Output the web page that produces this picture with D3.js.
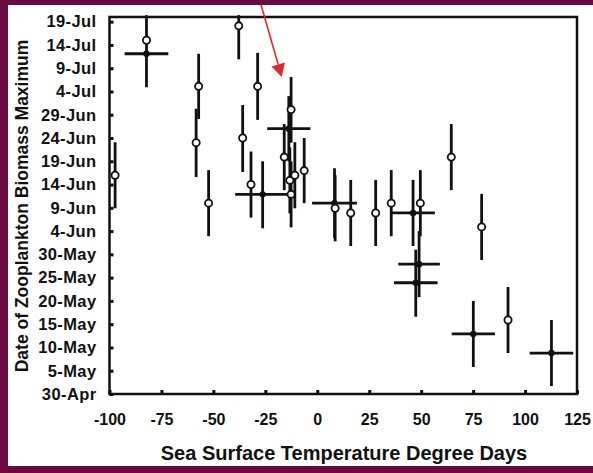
<!DOCTYPE html>
<html lang="en">
<head>
<meta charset="UTF-8">
<title>Zooplankton biomass maximum vs SST degree days</title>
<script src="https://cdn.jsdelivr.net/npm/d3@7"></script>
<style>
    body { margin: 0; background: #fff; }
    text { font-family: "Liberation Sans", Arial, sans-serif; font-weight: bold; fill: #111; }
</style>
</head>
<body>
<script>
    // x = degree days, d = days after 30-Apr, lo/hi = ends of the vertical bar (days)
    var openX  = [-97.3, -82.2, -57.1, -58.3, -52.3, -37.8, -35.9, -28.7, -31.9, -12.6, -15.9, -13.2, -10.8, -12.6, -6.3, 8.6, 16.1, 28.1, 35.6, 49.6, 64.5, 79.1, 91.8]
    var openD  = [47.0, 76.0, 66.1, 54.0, 41.0, 79.1, 55.0, 66.1, 45.0, 61.1, 50.9, 45.9, 47.0, 42.9, 48.0, 39.9, 38.9, 38.9, 41.0, 41.0, 50.9, 35.9, 15.9]
    var openLo = [39.9, 76.0, 59.1, 46.6, 33.9, 71.9, 47.7, 58.9, 37.9, 54.0, 43.8, 38.8, 39.9, 35.8, 41.0, 32.8, 31.8, 31.8, 33.9, 33.9, 43.8, 28.8, 8.8]
    var openHi = [54.1, 76.0, 73.1, 61.3, 48.1, 81.4, 62.1, 73.3, 52.1, 68.1, 58.0, 53.0, 54.1, 50.0, 55.0, 47.0, 46.0, 46.0, 48.1, 48.1, 58.0, 43.0, 23.0]

    // filled points also carry a horizontal bar (xErr)
    var fillX    = [-82.2, -26.3, -13.7, 8.3, 46.1, 49.0, 47.4, 75.1, 112.7]
    var fillXErr = [10.5, 13.2, 10.4, 10.8, 10.5, 10.0, 10.5, 10.4, 10.5]
    var fillD    = [73.1, 42.9, 57.0, 41.0, 38.9, 27.9, 23.9, 12.9, 8.8]
    var fillLo   = [65.9, 35.6, 50.0, 33.5, 31.8, 20.8, 16.6, 5.8, 1.7]
    var fillHi   = [81.4, 50.0, 64.0, 48.5, 46.0, 35.0, 31.0, 20.0, 15.9]

    var xTicks = [-100, -75, -50, -25, 0, 25, 50, 75, 100, 125]
    var yTickDays = [0, 5, 10, 15, 20, 25, 30, 35, 40, 45, 50, 55, 60, 65, 70, 75, 80]
    var yTickLabels = ['30-Apr', '5-May', '10-May', '15-May', '20-May', '25-May', '30-May', '4-Jun',
        '9-Jun', '14-Jun', '19-Jun', '24-Jun', '29-Jun', '4-Jul', '9-Jul', '14-Jul', '19-Jul']

    // red arrow: [x, day] start and tip
    var arrowFrom = [-28.6, 86]
    var arrowTo = [-17.1, 68.1]

    var width = 593
        height = 473
        plot = {left: 109.5, right: 577, top: 17, bottom: 394}
        border = '#6b0c40'

    var svg = d3.select('body')
        .append('svg')
        .attr('width', width)
        .attr('height', height)

    var xScale = d3.scaleLinear()
        .domain([-100, 125])
        .range([plot.left, plot.right])
    var yScale = d3.scaleLinear()
        .domain([0, 81])
        .range([plot.bottom, plot.top])

    svg.append('rect')
        .attr('width', width)
        .attr('height', height)
        .attr('fill', '#fff')

    // axes with short inward ticks
    var bottomAxis = d3.axisBottom(xScale)
        .tickValues(xTicks)
        .tickFormat(d => String(d))
        .tickSizeInner(-4)
        .tickSizeOuter(0)
        .tickPadding(20)
    var leftAxis = d3.axisLeft(yScale)
        .tickValues(yTickDays)
        .tickFormat((d, i) => yTickLabels[i])
        .tickSizeInner(-4)
        .tickSizeOuter(0)
        .tickPadding(13)

    var gx = svg.append('g')
        .attr('transform', `translate(0, ${plot.bottom})`)
        .call(bottomAxis)
    var gy = svg.append('g')
        .attr('transform', `translate(${plot.left}, 0)`)
        .call(leftAxis)
    gx.select('.domain').remove()
    gy.select('.domain').remove()
    gx.selectAll('.tick line').attr('stroke', '#111').attr('stroke-width', 3)
    gy.selectAll('.tick line').attr('stroke', '#111').attr('stroke-width', 3)
    gx.selectAll('.tick text').attr('font-size', 16).attr('font-family', null).attr('fill', '#111')
    gy.selectAll('.tick text').attr('font-size', 16.5).attr('letter-spacing', 0.4).attr('font-family', null).attr('fill', '#111')

    svg.append('rect')
        .attr('x', plot.left)
        .attr('y', plot.top)
        .attr('width', plot.right - plot.left)
        .attr('height', plot.bottom - plot.top)
        .attr('fill', 'none')
        .attr('stroke', '#111')
        .attr('stroke-width', 2.5)

    var openData = openX.map((x, i) => ({x: x, d: openD[i], lo: openLo[i], hi: openHi[i]}))
    var fillData = fillX.map((x, i) => ({x: x, xe: fillXErr[i], d: fillD[i], lo: fillLo[i], hi: fillHi[i]}))

    var bars = svg.append('g')
        .attr('stroke', '#111')
        .attr('stroke-width', 2.8)
    bars.selectAll('.vOpen')
        .data(openData.filter(d => d.hi > d.lo))
        .enter()
        .append('line')
        .attr('x1', d => xScale(d.x))
        .attr('x2', d => xScale(d.x))
        .attr('y1', d => yScale(d.lo))
        .attr('y2', d => yScale(d.hi))
    bars.selectAll('.vFill')
        .data(fillData)
        .enter()
        .append('line')
        .attr('x1', d => xScale(d.x))
        .attr('x2', d => xScale(d.x))
        .attr('y1', d => yScale(d.lo))
        .attr('y2', d => yScale(d.hi))
    bars.selectAll('.hFill')
        .data(fillData)
        .enter()
        .append('line')
        .attr('x1', d => xScale(d.x - d.xe))
        .attr('x2', d => xScale(d.x + d.xe))
        .attr('y1', d => yScale(d.d))
        .attr('y2', d => yScale(d.d))

    svg.selectAll('.dotFill')
        .data(fillData)
        .enter()
        .append('circle')
        .attr('cx', d => xScale(d.x))
        .attr('cy', d => yScale(d.d))
        .attr('r', 3.2)
        .attr('fill', '#111')

    svg.selectAll('.dotOpen')
        .data(openData)
        .enter()
        .append('circle')
        .attr('cx', d => xScale(d.x))
        .attr('cy', d => yScale(d.d))
        .attr('r', 3.6)
        .attr('fill', '#fff')
        .attr('stroke', '#111')
        .attr('stroke-width', 1.8)

    // arrow
    var ax1 = xScale(arrowFrom[0]), ay1 = yScale(arrowFrom[1])
        ax2 = xScale(arrowTo[0]), ay2 = yScale(arrowTo[1])
        ang = Math.atan2(ay2 - ay1, ax2 - ax1)
        headLen = 13, headHalf = 7
    var bx = ax2 - headLen * Math.cos(ang), by = ay2 - headLen * Math.sin(ang)
    svg.append('line')
        .attr('x1', ax1).attr('y1', ay1)
        .attr('x2', bx).attr('y2', by)
        .attr('stroke', '#e3262b')
        .attr('stroke-width', 1.6)
    svg.append('path')
        .attr('d', d3.line()([
            [ax2, ay2],
            [bx + headHalf * Math.sin(ang), by - headHalf * Math.cos(ang)],
            [bx - headHalf * Math.sin(ang), by + headHalf * Math.cos(ang)]
        ]) + 'Z')
        .attr('fill', '#e3262b')

    // axis titles
    svg.append('text')
        .attr('x', 344)
        .attr('y', 460)
        .attr('text-anchor', 'middle')
        .attr('font-size', 20)
        .text('Sea Surface Temperature Degree Days')
    svg.append('text')
        .attr('transform', 'translate(28, 206) rotate(-90)')
        .attr('text-anchor', 'middle')
        .attr('font-size', 17.5)
        .text('Date of Zooplankton Biomass Maximum')

    // purple frame of the picture
    svg.append('rect').attr('x', 0).attr('y', 0).attr('width', width).attr('height', 5).attr('fill', border)
    svg.append('rect').attr('x', 0).attr('y', 0).attr('width', 8).attr('height', height).attr('fill', border)
    svg.append('rect').attr('x', 0).attr('y', 466).attr('width', width).attr('height', 7).attr('fill', border)
</script>
</body>
</html>
